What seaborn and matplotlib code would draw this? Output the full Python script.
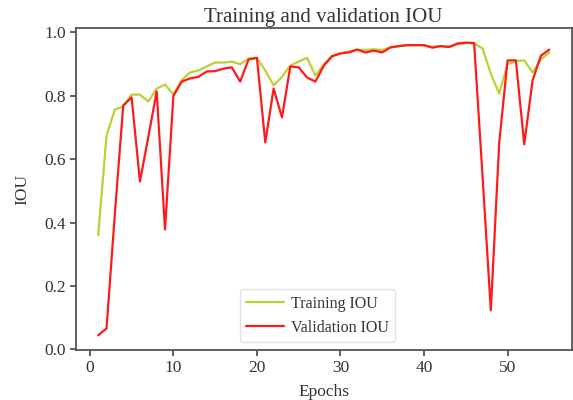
import numpy as np
import pandas as pd
import matplotlib
matplotlib.use("Agg")
import matplotlib.pyplot as plt
import seaborn as sns

epochs = list(range(1, 56))

train_iou = [
    0.36, 0.675, 0.757, 0.767, 0.804, 0.804, 0.782, 0.823, 0.836, 0.804,
    0.850, 0.874, 0.880, 0.893, 0.905, 0.905, 0.908, 0.900, 0.918, 0.920,
    0.880, 0.833, 0.860, 0.896, 0.908, 0.920, 0.864, 0.900, 0.927, 0.934,
    0.940, 0.946, 0.945, 0.947, 0.945, 0.953, 0.957, 0.960, 0.960, 0.960,
    0.955, 0.957, 0.955, 0.963, 0.967, 0.965, 0.950, 0.870, 0.807, 0.900,
    0.910, 0.912, 0.874, 0.915, 0.937,
]

val_iou = [
    0.044, 0.066, 0.430, 0.770, 0.795, 0.530, 0.670, 0.814, 0.378, 0.800,
    0.845, 0.855, 0.860, 0.877, 0.878, 0.886, 0.890, 0.845, 0.915, 0.920,
    0.653, 0.823, 0.732, 0.893, 0.890, 0.858, 0.845, 0.895, 0.925, 0.934,
    0.937, 0.946, 0.937, 0.943, 0.937, 0.953, 0.957, 0.960, 0.960, 0.960,
    0.952, 0.957, 0.954, 0.965, 0.968, 0.967, 0.550, 0.123, 0.650, 0.912,
    0.912, 0.647, 0.849, 0.927, 0.946,
]

df = pd.DataFrame({
    "Epochs": epochs * 2,
    "IOU": train_iou + val_iou,
    "Series": ["Training IOU"] * len(epochs) + ["Validation IOU"] * len(epochs),
})

sns.set_theme(style="ticks")
plt.rcParams["font.family"] = ["Liberation Serif", "DejaVu Serif"]
plt.rcParams["axes.edgecolor"] = "#4d4d4d"
plt.rcParams["xtick.color"] = "#4d4d4d"
plt.rcParams["ytick.color"] = "#4d4d4d"
plt.rcParams["xtick.labelcolor"] = "#333333"
plt.rcParams["ytick.labelcolor"] = "#333333"

fig = plt.figure(figsize=(5.73, 4.0), dpi=100)
ax = fig.add_axes([0.132, 0.125, 0.866, 0.805])

sns.lineplot(
    data=df, x="Epochs", y="IOU", hue="Series",
    palette={"Training IOU": "#bfd033", "Validation IOU": "#ff1a1a"},
    linewidth=1.6, ax=ax,
)

ax.set_xticks([0, 10, 20, 30, 40, 50])
ax.set_yticks([0.0, 0.2, 0.4, 0.6, 0.8, 1.0])
ax.set_yticklabels(["0.0", "0.2", "0.4", "0.6", "0.8", "1.0"])
ax.tick_params(labelsize=12.5, length=4, pad=3)
ax.set_title("Training and validation IOU", fontsize=15, color="#333333", pad=4)
ax.set_xlabel("Epochs", fontsize=12.5, color="#333333", labelpad=6)
ax.set_ylabel("IOU", fontsize=12.5, color="#333333", labelpad=10)

leg = ax.legend(loc="lower center", fontsize=11.5, frameon=True,
                handlelength=2.4, handletextpad=0.4,
                bbox_to_anchor=(0.487, 0.0))
leg.get_frame().set_edgecolor("#dddddd")
for t in leg.get_texts():
    t.set_color("#333333")

fig.savefig("out.png", dpi=100)
